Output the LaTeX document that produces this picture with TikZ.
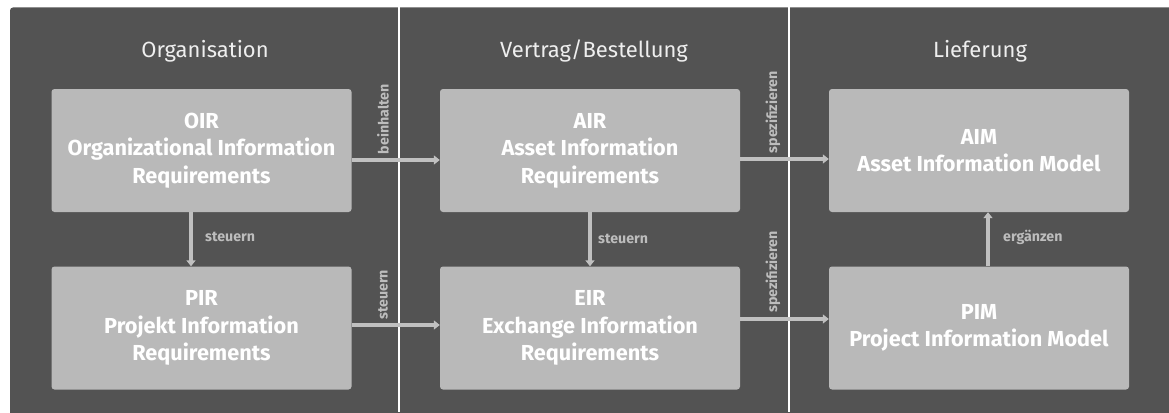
\documentclass[tikz,border=0pt]{standalone}
\usepackage{fontspec}
\setmainfont{Fira Sans}
\usetikzlibrary{arrows.meta,calc}
\definecolor{panel}{HTML}{535353}
\definecolor{boxgray}{HTML}{B9B9B9}
\definecolor{conngray}{HTML}{C0C0C0}
\definecolor{labgray}{HTML}{BDBDBD}
\definecolor{titlegray}{HTML}{EEEEEE}
\tikzset{
  infobox/.style={draw=none, fill=boxgray, rounded corners=3pt, minimum width=300pt, minimum height=123pt,
    inner sep=0pt, align=center, text=white, font=\bfseries\fontsize{21.7}{27.5}\selectfont},
  title/.style={text=titlegray, font=\fontsize{22}{26}\selectfont, inner sep=0pt},
  conn/.style={draw=conngray, line width=3.2pt, -{Triangle[width=9pt,length=6pt]}},
  lab/.style={text=labgray, font=\bfseries\fontsize{14.2}{16}\selectfont, inner sep=0pt},
}
\begin{document}
\begin{tikzpicture}[x=1pt,y=-1pt]
\useasboundingbox (0,0) rectangle (1169,412);
\fill[white] (0,0) rectangle (1169,412);
% panels
\fill[panel, rounded corners=3pt] (10,7.5) -- (10,430) -- (1180,430) -- (1180,7.5) -- cycle;
\fill[white] (398.2,7) rectangle (399.6,412);
\fill[white] (788.2,7) rectangle (789.6,412);
% titles
\node[title] (t1) at (205,51) {Organisation};
\node[title] (t2) at (594,51) {Vertrag/Bestellung};
\node[title] (t3) at (980,51) {Lieferung};
% boxes
\node[infobox] (OIR) at (201.5,150.5) {OIR\\Organizational Information\\Requirements};
\node[infobox] (PIR) at (201.5,328) {PIR\\Projekt Information\\Requirements};
\node[infobox] (AIR) at (590,150.5) {AIR\\Asset Information\\Requirements};
\node[infobox] (EIR) at (590,328) {EIR\\Exchange Information\\Requirements};
\node[infobox] (AIM) at (979,150.5) {AIM\\Asset Information Model};
\node[infobox] (PIM) at (979,328) {PIM\\Project Information Model};
% connectors
\draw[conn] ([yshift=-9.5pt]OIR.east) -- ([yshift=-9.5pt]AIR.west);
\draw[conn] ([yshift=-8.5pt]AIR.east) -- ([yshift=-8.5pt]AIM.west);
\draw[conn] ([yshift=3pt]PIR.east) -- ([yshift=3pt]EIR.west);
\draw[conn] ([yshift=9pt]EIR.east) -- ([yshift=9pt]PIM.west);
\draw[conn] ([xshift=-10.5pt]OIR.south) -- ([xshift=-10.5pt]PIR.north);
\draw[conn] (AIR.south) -- (EIR.north);
\draw[conn] ([xshift=9pt]PIM.north) -- ([xshift=9pt]AIM.south);
% labels
\node[lab, rotate=90, anchor=west] (l1) at (383,154.5) {beinhalten};
\node[lab, rotate=90, anchor=west] (l2) at (773,153.5) {spezifizieren};
\node[lab, rotate=90, anchor=west] (l3) at (383,320) {steuern};
\node[lab, rotate=90, anchor=west] (l4) at (773,313) {spezifizieren};
\node[lab, anchor=west] (l5) at (205,237) {steuern};
\node[lab, anchor=west] (l6) at (598,239) {steuern};
\node[lab, anchor=west] (l7) at (1003,237) {ergänzen};
\end{tikzpicture}
\end{document}
